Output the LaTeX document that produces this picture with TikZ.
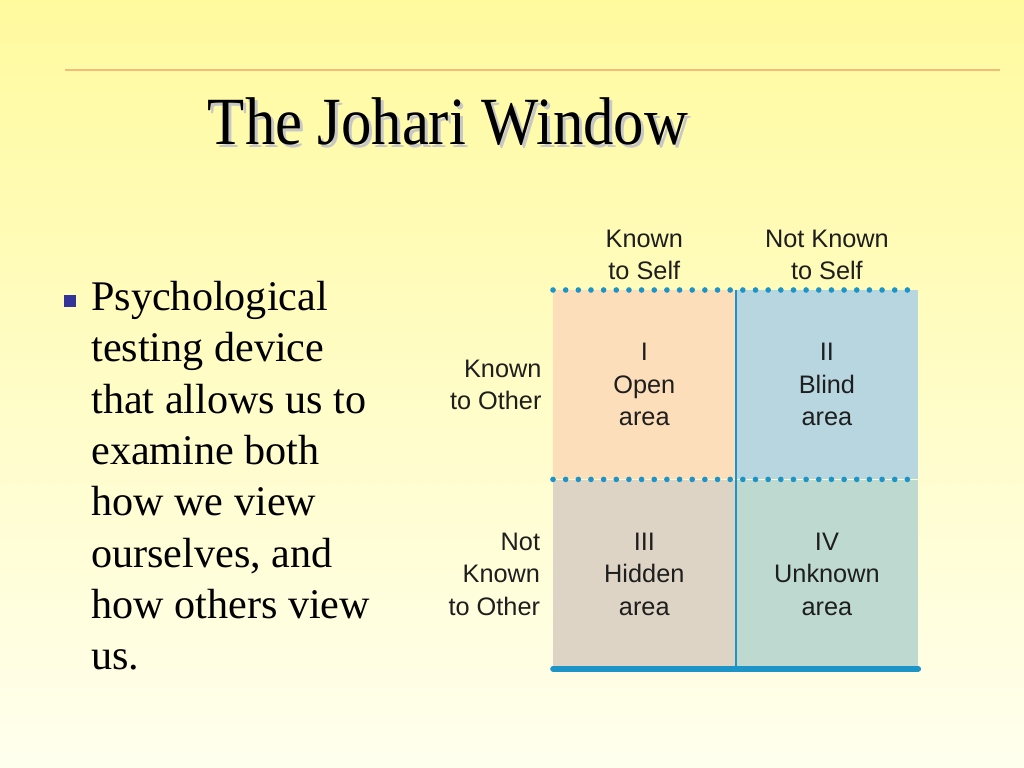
\documentclass[tikz,border=0pt]{standalone}
\usepackage{fontspec}
\setmainfont{Liberation Serif}
\newfontfamily\labelfont{Liberation Sans}
\newfontfamily\titlefont[FakeStretch=0.9]{Liberation Serif}
\usepackage{xcolor}
\definecolor{bgtop}{RGB}{255,250,158}
\definecolor{bgbot}{RGB}{255,255,238}
\definecolor{rulecol}{RGB}{245,188,120}
\definecolor{bulletcol}{RGB}{51,51,153}
\definecolor{gridblue}{RGB}{28,148,200}
\definecolor{opencol}{RGB}{252,222,186}
\definecolor{blindcol}{RGB}{183,214,224}
\definecolor{hiddencol}{RGB}{221,212,198}
\definecolor{unknowncol}{RGB}{190,217,207}
\definecolor{inkcol}{RGB}{30,30,30}
\usetikzlibrary{positioning}

\begin{document}
\begin{tikzpicture}[x=0.025cm, y=-0.025cm,
  title/.style={inner sep=0pt,font=\titlefont\fontsize{48}{56}\selectfont},
  body/.style={inner sep=0pt,align=left,font=\fontsize{30}{36.5}\selectfont},
  lbl/.style={inner sep=0pt,text=inkcol,font=\labelfont\fontsize{18}{23}\selectfont},
  cell/.style={lbl,align=center,minimum width=4.55cm,minimum height=4.72cm},
  dots/.style={gridblue,line width=4pt,line cap=round,dash pattern=on 0pt off 9pt}]

  % slide background and rule
  \shade[top color=bgtop,bottom color=bgbot] (0,0) rectangle (1024,768);
  \coordinate (ruleL) at (65,70);
  \coordinate (ruleR) at (1000,70);
  \draw[rulecol,line width=0.8pt] (ruleL) -- (ruleR);

  % title with its soft shadow
  \node[title,anchor=base,text=black!22] (shadow) at (451,148) {The Johari Window};
  \node[title,anchor=base] (heading) at (448,145) {The Johari Window};

  % bullet text
  \node[fill=bulletcol,minimum size=0.28cm,inner sep=0pt] (bullet) at (70,301) {};
  \node[body,anchor=north west] (text) at (91,281)
    {Psychological\\testing device\\that allows us to\\examine both\\how we view\\ourselves, and\\how others view\\us.};

  % the four panes
  \node[cell,fill=opencol,anchor=north west] (open) at (553,290) {I\\Open\\area};
  \node[cell,fill=blindcol,right=0pt of open] (blind) {II\\Blind\\area};
  \node[cell,fill=hiddencol,below=0pt of open] (hidden) {III\\Hidden\\area};
  \node[cell,fill=unknowncol,right=0pt of hidden] (unknown) {IV\\Unknown\\area};

  % headings round the window
  \node[lbl,align=center,above=7pt of open] (knownself) {Known\\to Self};
  \node[lbl,align=center,above=7pt of blind] (notself) {Not Known\\to Self};
  \node[lbl,align=right,left=8pt of open] (knownother) {Known\\to Other};
  \node[lbl,align=right,left=9pt of hidden] (notother) {Not\\Known\\to Other};

  \draw[gridblue,line width=1.5pt] (open.north east) -- (hidden.south east);
  \draw[dots] (open.north west) -- (blind.north east);
  \draw[dots] (hidden.north west) -- (unknown.north east);
  \draw[gridblue,line width=4pt,line cap=round] (hidden.south west) -- (unknown.south east);
\end{tikzpicture}
\end{document}
